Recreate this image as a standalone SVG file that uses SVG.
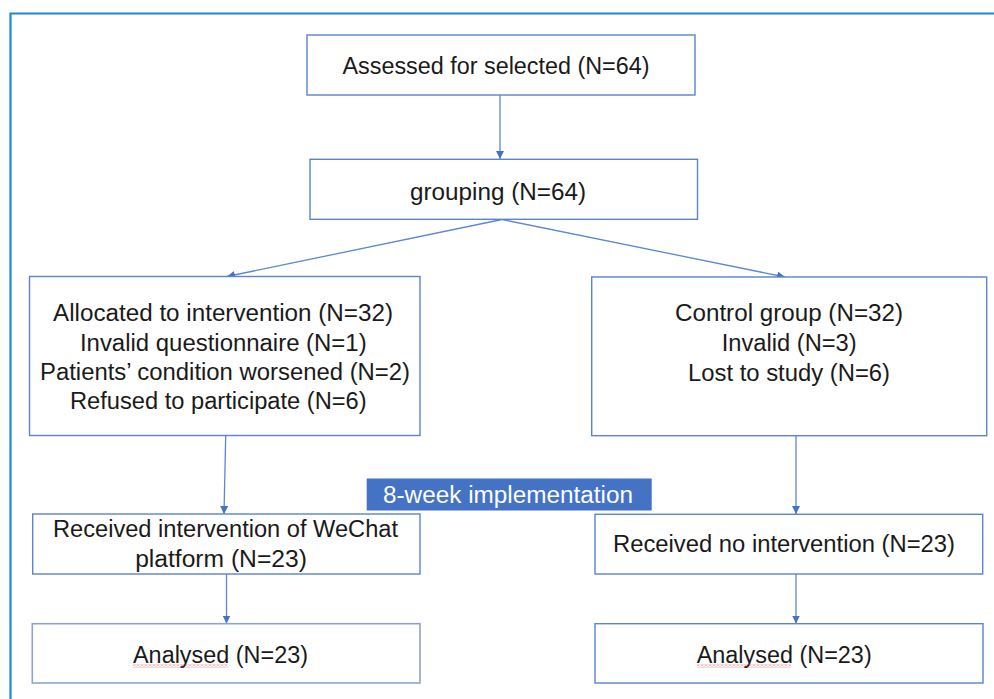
<svg xmlns="http://www.w3.org/2000/svg" width="994" height="699" viewBox="0 0 994 699">
<style>
.box{fill:#fff;stroke:#5b84cc;stroke-width:1.4}
.box2{fill:#fff;stroke:#8ea4c8;stroke-width:1.6}
.t{font-family:"Liberation Sans",Arial,sans-serif;font-size:23px;fill:#1a1a1a;text-anchor:middle}
.w{fill:#fff}
.c{stroke:#5b87d4;stroke-width:1.3;fill:none}
</style>
<defs>
<marker id="ah" viewBox="0 0 10 10" refX="10" refY="5" markerWidth="8" markerHeight="8" markerUnits="userSpaceOnUse" orient="auto">
<path d="M0,0 L10,5 L0,10 z" fill="#4472c4"/>
</marker>
<pattern id="sq" x="0" y="0" width="4" height="3" patternUnits="userSpaceOnUse">
<path d="M0,0.5 L2,2.5 L4,0.5" stroke="#e04040" stroke-width="0.8" fill="none"/>
</pattern>
</defs>
<rect width="994" height="699" fill="#fff"/>
<path d="M10.5,699 V13.5 H994" fill="none" stroke="#1b8bc9" stroke-width="2.2"/>

<g id="connectors">
<line class="c" x1="500" y1="95" x2="500" y2="159" marker-end="url(#ah)"/>
<line class="c" x1="502" y1="219.5" x2="227" y2="276.5" marker-end="url(#ah)"/>
<line class="c" x1="502" y1="219.5" x2="785" y2="277" marker-end="url(#ah)"/>
<line class="c" x1="225.7" y1="436" x2="224" y2="514" marker-end="url(#ah)"/>
<line class="c" x1="796" y1="436" x2="796" y2="514" marker-end="url(#ah)"/>
<line class="c" x1="226.5" y1="574" x2="226.5" y2="623.5" marker-end="url(#ah)"/>
<line class="c" x1="796" y1="574" x2="796" y2="623.5" marker-end="url(#ah)"/>
</g>

<g id="n1">
<rect class="box" x="307" y="35" width="388" height="60"/>
<text class="t" x="496" y="74" textLength="307" lengthAdjust="spacingAndGlyphs">Assessed for selected (N=64)</text>
</g>
<g id="n2">
<rect class="box" x="310" y="159.3" width="387.5" height="60"/>
<text class="t" x="498" y="200" textLength="176" lengthAdjust="spacingAndGlyphs">grouping (N=64)</text>
</g>
<g id="n3">
<rect class="box" x="29.5" y="276.5" width="390.5" height="159"/>
<text class="t" x="223" y="321" textLength="340" lengthAdjust="spacingAndGlyphs">Allocated to intervention (N=32)</text>
<text class="t" x="223.3" y="351" textLength="286.7" lengthAdjust="spacingAndGlyphs">Invalid questionnaire (N=1)</text>
<text class="t" x="225" y="380" textLength="370" lengthAdjust="spacingAndGlyphs">Patients’ condition worsened (N=2)</text>
<text class="t" x="218.3" y="409.3" textLength="296.7" lengthAdjust="spacingAndGlyphs">Refused to participate (N=6)</text>
</g>
<g id="n4">
<rect class="box" x="591.7" y="277" width="395" height="158.7"/>
<text class="t" x="789" y="321" textLength="228" lengthAdjust="spacingAndGlyphs">Control group (N=32)</text>
<text class="t" x="789.2" y="351" textLength="135" lengthAdjust="spacingAndGlyphs">Invalid (N=3)</text>
<text class="t" x="789" y="380.7" textLength="202" lengthAdjust="spacingAndGlyphs">Lost to study (N=6)</text>
</g>
<g id="banner">
<rect x="366.7" y="478.5" width="285" height="32" fill="#4472c4"/>
<text class="t w" x="508" y="503" textLength="250" lengthAdjust="spacingAndGlyphs">8-week implementation</text>
</g>
<g id="n5">
<rect class="box" x="32.7" y="514" width="387.3" height="60"/>
<text class="t" x="225.5" y="536.7" textLength="345" lengthAdjust="spacingAndGlyphs">Received intervention of WeChat</text>
<text class="t" x="221" y="566.7" textLength="171.7" lengthAdjust="spacingAndGlyphs">platform (N=23)</text>
</g>
<g id="n6">
<rect class="box" x="595" y="514.3" width="387.7" height="59.7"/>
<text class="t" x="784" y="551.7" textLength="342" lengthAdjust="spacingAndGlyphs">Received no intervention (N=23)</text>
</g>
<g id="n7">
<rect class="box2" x="32.3" y="623.7" width="387.7" height="59.3"/>
<text class="t" x="220.5" y="663" textLength="175" lengthAdjust="spacingAndGlyphs">Analysed (N=23)</text>
<rect x="133" y="664.5" width="95" height="3" fill="url(#sq)"/>
</g>
<g id="n8">
<rect class="box" x="595" y="623.7" width="388" height="59.3"/>
<text class="t" x="784.2" y="663" textLength="175" lengthAdjust="spacingAndGlyphs">Analysed (N=23)</text>
<rect x="697" y="664.5" width="94" height="3" fill="url(#sq)"/>
</g>
</svg>
